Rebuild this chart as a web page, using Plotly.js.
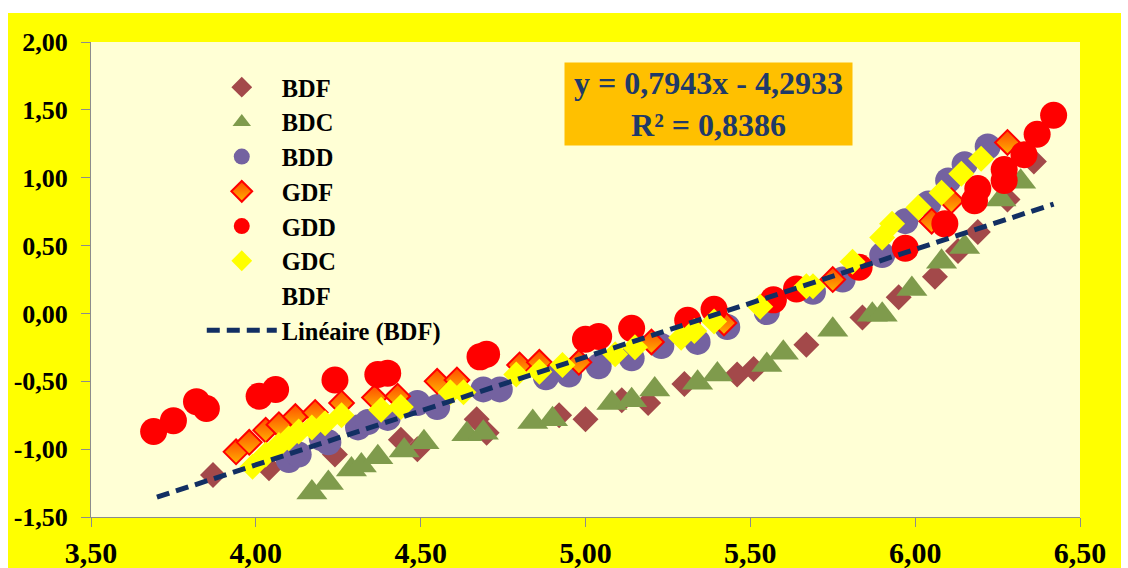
<!DOCTYPE html>
<html>
<head>
<meta charset="utf-8">
<script src="https://cdn.plot.ly/plotly-3.0.1.min.js"></script>
<style>
  html, body { margin: 0; padding: 0; background: #ffffff; width: 1128px; height: 568px; overflow: hidden; }
  #chart { position: absolute; left: 8px; top: 13px; width: 1113px; height: 555px; }
</style>
</head>
<body>
<div id="chart"></div>
<script>
// ---- data ----
const bdfX = [3.87,4.04,4.24,4.44,4.49,4.67,4.70,4.92,5.00,5.11,5.19,5.30,5.46,5.51,5.67,5.84,5.95,6.06,6.13,6.19,6.28,6.36];
const bdfY = [-1.19,-1.14,-1.04,-0.93,-1.00,-0.78,-0.88,-0.75,-0.78,-0.64,-0.66,-0.52,-0.45,-0.41,-0.23,-0.03,0.12,0.27,0.46,0.60,0.84,1.12];

const bdcX = [4.17,4.22,4.29,4.32,4.37,4.45,4.51,4.64,4.69,4.84,4.90,5.08,5.14,5.21,5.34,5.40,5.55,5.60,5.75,5.87,5.90,5.99,6.08,6.15,6.26,6.32];
const bdcY = [-1.32,-1.25,-1.15,-1.12,-1.06,-1.01,-0.95,-0.89,-0.88,-0.80,-0.78,-0.66,-0.64,-0.56,-0.51,-0.45,-0.38,-0.29,-0.12,-0.01,-0.01,0.18,0.38,0.49,0.84,0.97];

const bddX = [4.10,4.13,4.20,4.22,4.31,4.34,4.40,4.49,4.55,4.69,4.74,4.88,4.95,5.04,5.14,5.23,5.34,5.43,5.55,5.69,5.78,5.90,5.97,6.04,6.10,6.15,6.22];
const bddY = [-1.08,-1.04,-0.92,-0.95,-0.84,-0.80,-0.77,-0.66,-0.69,-0.56,-0.56,-0.47,-0.45,-0.39,-0.33,-0.24,-0.21,-0.10,0.01,0.16,0.25,0.43,0.68,0.81,0.98,1.10,1.23];

const gdfX = [3.94,3.98,4.03,4.07,4.12,4.18,4.26,4.36,4.43,4.55,4.61,4.80,4.86,4.98,5.20,5.42,5.75,6.05,6.11,6.28];
const gdfY = [-1.02,-0.95,-0.86,-0.82,-0.76,-0.73,-0.66,-0.62,-0.61,-0.50,-0.49,-0.38,-0.36,-0.36,-0.21,-0.07,0.25,0.68,0.83,1.26];

const gddX = [3.69,3.75,3.82,3.85,4.01,4.06,4.24,4.37,4.40,4.68,4.70,5.00,5.04,5.14,5.31,5.39,5.57,5.64,5.83,5.97,6.09,6.18,6.19,6.27,6.27,6.33,6.37,6.42];
const gddY = [-0.87,-0.79,-0.65,-0.70,-0.61,-0.56,-0.49,-0.45,-0.44,-0.32,-0.30,-0.19,-0.17,-0.11,-0.05,0.03,0.10,0.18,0.34,0.48,0.66,0.83,0.92,0.98,1.06,1.17,1.32,1.46];

const gdcX = [3.99,4.03,4.07,4.10,4.13,4.17,4.21,4.26,4.38,4.44,4.59,4.63,4.79,4.86,4.93,5.09,5.15,5.29,5.33,5.39,5.53,5.67,5.69,5.81,5.90,5.93,6.01,6.08,6.14,6.20];
const gdcY = [-1.13,-1.04,-0.97,-0.92,-0.87,-0.84,-0.81,-0.75,-0.71,-0.69,-0.58,-0.58,-0.45,-0.43,-0.38,-0.30,-0.25,-0.18,-0.13,-0.06,0.05,0.20,0.20,0.38,0.56,0.66,0.78,0.89,1.03,1.14];

const trendX = [3.70, 6.42];
const trendY = [-1.354, 0.806];

const seriesNames = ['BDF','BDC','BDD','GDF','GDD','GDC','BDF','Linéaire (BDF)'];
const equationText = 'y = 0,7943x - 4,2933<br>R² = 0,8386';

const xTickVals = [3.5,4.0,4.5,5.0,5.5,6.0,6.5];
const xTickText = ['3,50','4,00','4,50','5,00','5,50','6,00','6,50'];
const yTickVals = [-1.5,-1.0,-0.5,0,0.5,1.0,1.5,2.0];
const yTickText = ['-1,50','-1,00','-0,50','0,00','0,50','1,00','1,50','2,00'];

// ---- traces ----
const FONT = 'Liberation Serif, Times New Roman, serif';
const traces = [
  { x: bdfX, y: bdfY, name: seriesNames[0], type: 'scatter', mode: 'markers',
    marker: { symbol: 'diamond', size: 20, color: '#A3494A' } },
  { x: bdcX, y: bdcY, name: seriesNames[1], type: 'scatter', mode: 'markers',
    marker: { symbol: 'triangle-up', size: 27, color: '#7F9B4C' } },
  { x: bddX, y: bddY, name: seriesNames[2], type: 'scatter', mode: 'markers',
    marker: { symbol: 'circle', size: 26, color: '#7462A0' } },
  { x: gdfX, y: gdfY, name: seriesNames[3], type: 'scatter', mode: 'markers',
    marker: { symbol: 'diamond', size: 19, color: '#FF4A00',
              gradient: { type: 'vertical', color: '#FFB400' },
              line: { color: '#FF0000', width: 2 } } },
  { x: gddX, y: gddY, name: seriesNames[4], type: 'scatter', mode: 'markers',
    marker: { symbol: 'circle', size: 27, color: '#FF0000' } },
  { x: gdcX, y: gdcY, name: seriesNames[5], type: 'scatter', mode: 'markers',
    marker: { symbol: 'diamond', size: 20, color: '#FFFF00' } },
  // second "BDF" series: drawn without markers (only its legend entry is visible)
  { x: bdfX, y: bdfY, name: seriesNames[6], type: 'scatter', mode: 'markers',
    marker: { symbol: 'circle', size: 10, color: 'rgba(0,0,0,0)' } },
  { x: trendX, y: trendY, name: seriesNames[7], type: 'scatter', mode: 'lines',
    line: { color: '#122F63', width: 5, dash: '13px,7px' } }
];

const layout = {
  width: 1113, height: 555,
  paper_bgcolor: '#FFFF00',
  plot_bgcolor: '#FFFFD5',
  margin: { l: 83, r: 41, t: 29, b: 51 },
  font: { family: FONT, color: '#000000' },
  showlegend: true,
  legend: {
    x: 0.112, y: 0.952, xanchor: 'left', yanchor: 'top',
    bgcolor: 'rgba(0,0,0,0)', borderwidth: 0,
    itemwidth: 70, traceorder: 'normal',
    font: { family: FONT, size: 24.4, weight: 'bold', color: '#000000' }
  },
  xaxis: {
    range: [3.5, 6.5], tickmode: 'array', tickvals: xTickVals, ticktext: xTickText,
    showgrid: false, zeroline: false, showline: true, linecolor: '#8C8C8C', linewidth: 1,
    ticks: 'outside', ticklen: 9, tickcolor: '#8C8C8C', tickwidth: 1,
    ticklabelstandoff: 0,
    tickfont: { family: FONT, size: 30, weight: 'bold', color: '#000000' }
  },
  yaxis: {
    range: [-1.5, 2.0], tickmode: 'array', tickvals: yTickVals, ticktext: yTickText,
    showgrid: false, zeroline: false, showline: true, linecolor: '#8C8C8C', linewidth: 1,
    ticks: 'outside', ticklen: 9, tickcolor: '#8C8C8C', tickwidth: 1,
    ticklabelstandoff: 8,
    tickfont: { family: FONT, size: 26, weight: 'bold', color: '#000000' }
  },
  annotations: [{
    xref: 'paper', yref: 'paper', x: 0.6244, y: 0.8695,
    xanchor: 'center', yanchor: 'middle', showarrow: false,
    text: equationText, align: 'center',
    bgcolor: '#FFC000', borderpad: 0, width: 287, height: 82,
    font: { family: FONT, size: 32, weight: 'bold', color: '#1F3A68' }
  }]
};

Plotly.newPlot('chart', traces, layout, { displayModeBar: false, staticPlot: true });
</script>
</body>
</html>
